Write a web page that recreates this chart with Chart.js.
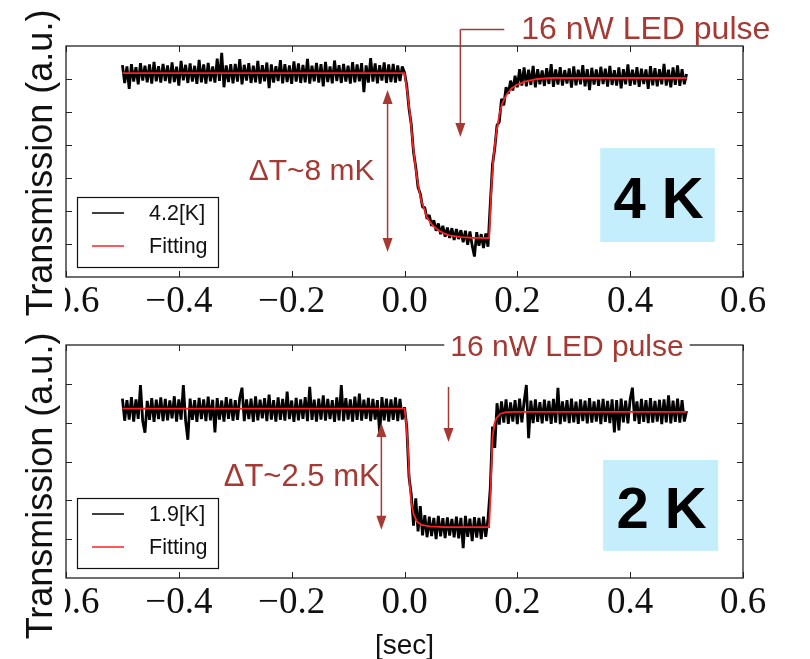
<!DOCTYPE html>
<html>
<head>
<meta charset="utf-8">
<script src="https://cdn.jsdelivr.net/npm/chart.js@4.4.0/dist/chart.umd.min.js"></script>
<style>
  body { margin: 0; background: #fff; width: 810px; height: 659px; overflow: hidden; position: relative; }
  canvas { position: absolute; left: 0; }
  #topChart { top: 0; }
  #bottomChart { top: 320px; }
</style>
</head>
<body>
<canvas id="topChart" width="810" height="320"></canvas>
<canvas id="bottomChart" width="810" height="339"></canvas>
<script>
// sampling of the recorded traces [sec]
const T0 = -0.5;
const DT = 0.004;

const xTicks = [-0.6, -0.4, -0.2, 0.0, 0.2, 0.4, 0.6];

// 4.2 K trace (a.u.)
const traceTop = [
  6.42, 5.88, 6.38, 5.70, 6.45, 5.92, 6.36, 5.84, 6.48, 5.95, 6.40, 5.90, 6.44, 5.86, 6.52, 5.93, 6.39, 5.89, 6.46, 5.94,
  6.41, 5.87, 6.50, 5.91, 6.37, 5.80, 6.55, 5.96, 6.43, 5.88, 6.47, 5.92, 6.40, 5.85, 6.58, 5.90, 6.44, 5.86, 6.49, 5.93,
  6.38, 5.89, 6.62, 5.94, 6.79, 5.75, 6.41, 5.91, 6.45, 5.87, 6.46, 5.92, 6.60, 5.84, 6.43, 5.95, 6.48, 5.88, 6.40, 5.90,
  6.55, 5.86, 6.42, 5.93, 6.50, 5.72, 6.44, 5.89, 6.39, 5.94, 6.57, 5.87, 6.45, 5.91, 6.41, 5.85, 6.53, 5.92, 6.47, 5.88,
  6.43, 5.90, 6.61, 5.86, 6.40, 5.93, 6.49, 5.89, 6.45, 5.78, 6.52, 5.91, 6.38, 5.87, 6.56, 5.94, 6.42, 5.88, 6.46, 5.92,
  6.40, 5.86, 6.51, 5.90, 6.44, 5.93, 6.48, 5.60, 6.41, 5.89, 6.63, 5.92, 6.47, 5.87, 6.42, 5.95, 6.50, 5.88, 6.44, 5.91,
  6.46, 5.89, 6.41, 5.94, 6.38, 6.20,
  // pulse on
  5.80, 5.10, 4.62, 3.78, 3.33, 2.72, 2.52, 2.12, 2.10, 1.76, 1.88, 1.55, 1.72, 1.40, 1.62, 1.30, 1.55, 1.22, 1.50, 1.18,
  1.48, 1.12, 1.45, 1.15, 1.42, 1.05, 1.40, 0.98, 1.38, 0.95, 0.62, 1.36, 0.95, 1.30, 0.88, 1.32, 0.92,
  // recovery
  2.20, 3.40, 3.90, 4.60, 4.70, 5.40, 5.20, 5.75, 5.55, 5.95, 5.65, 6.10, 5.75, 6.30, 5.80,
  6.35, 5.78, 6.28, 5.82, 6.40, 5.75, 6.30, 5.84, 6.26, 5.79, 6.33, 5.85, 6.45, 5.76, 6.29, 5.83, 6.36, 5.80, 6.27, 5.86,
  6.32, 5.74, 6.38, 5.81, 6.28, 5.84, 6.42, 5.78, 6.30, 5.66, 6.34, 5.83, 6.29, 5.79, 6.37, 5.85, 6.31, 5.77, 6.40, 5.82,
  6.27, 5.80, 6.35, 5.72, 6.30, 5.84, 6.44, 5.79, 6.28, 5.83, 6.36, 5.76, 6.31, 5.85, 6.29, 5.70, 6.39, 5.81, 6.33, 5.78,
  6.30, 5.84, 6.46, 5.80, 6.28, 5.75, 6.35, 5.82, 6.41, 5.79, 6.30, 5.84, 6.15
];
const fitTopTime  = [-0.5, 0, 0.005, 0.01, 0.015, 0.02, 0.025, 0.03, 0.04, 0.05, 0.06, 0.07, 0.08, 0.1, 0.12, 0.15,
                     0.154, 0.158, 0.163, 0.168, 0.173, 0.18, 0.19, 0.2, 0.215, 0.235, 0.26, 0.5];
const fitTopValue = [6.18, 6.18, 5.6, 4.9, 4.0, 3.25, 2.7, 2.3, 1.8, 1.56, 1.42, 1.32, 1.26, 1.21, 1.19, 1.18,
                     2.7, 3.7, 4.4, 4.9, 5.25, 5.5, 5.72, 5.83, 5.93, 6.0, 6.03, 6.03];

// 1.9 K trace (a.u.)
const traceBottom = [
  4.62, 4.05, 4.58, 4.08, 4.66, 4.03, 4.60, 4.10, 4.97, 4.04, 3.74, 4.56, 4.07, 4.63, 4.02, 4.59, 4.09, 4.65, 4.04, 4.61,
  4.06, 4.57, 4.11, 4.68, 4.03, 4.60, 4.08, 4.97, 4.05, 3.56, 4.62, 4.07, 4.58, 4.02, 4.64, 4.09, 4.60, 4.04, 4.67, 4.06,
  4.59, 3.75, 4.63, 4.08, 4.57, 4.03, 4.66, 4.10, 4.61, 4.05, 4.58, 4.07, 4.64, 4.90, 4.04, 4.60, 4.09, 4.62, 4.02, 4.68,
  4.06, 4.59, 4.11, 4.63, 4.04, 4.72, 4.08, 4.58, 4.03, 4.65, 4.07, 4.61, 4.05, 4.80, 4.09, 4.57, 4.02, 4.64, 4.06, 4.60,
  4.10, 4.66, 4.04, 4.92, 4.07, 4.59, 4.03, 4.62, 4.08, 4.70, 4.05, 4.61, 4.09, 4.58, 4.02, 4.65, 4.06, 4.97, 4.04, 4.63,
  4.08, 4.60, 4.03, 4.67, 4.07, 4.75, 4.05, 4.59, 4.10, 4.64, 4.04, 4.61, 4.08, 4.58, 3.70, 4.66, 4.06, 4.62, 4.03, 4.60,
  4.07, 4.65, 4.04, 4.61, 4.08, 4.40,
  // pulse on
  3.90, 2.60, 2.15, 1.35, 2.05, 1.20, 1.85, 1.10, 1.62, 1.05, 1.58, 1.08, 1.55, 1.00, 1.60, 1.07, 1.54, 1.03, 1.56, 1.09,
  1.52, 1.05, 1.58, 1.02, 1.55, 0.77, 1.60, 1.06, 1.53, 0.95, 1.57, 1.04, 1.55, 1.00, 1.58, 1.06, 1.52,
  // recovery
  2.30, 3.90, 3.35, 4.50, 3.95,
  4.55, 4.00, 4.60, 3.97, 4.52, 4.03, 4.58, 3.96, 4.62, 4.01, 4.54, 4.97, 3.60, 4.57, 3.99, 4.60, 4.02, 4.53, 3.98, 4.59,
  4.04, 4.56, 3.97, 4.61, 4.00, 4.90, 3.96, 4.55, 4.03, 4.58, 3.99, 4.62, 4.01, 4.54, 3.97, 4.60, 4.04, 4.57, 3.98, 4.63,
  4.00, 4.55, 4.03, 4.59, 3.96, 4.61, 4.02, 4.56, 3.99, 4.60, 3.75, 4.58, 3.80, 4.62, 4.01, 4.57, 3.98, 4.60, 4.90, 4.04,
  4.55, 3.97, 4.61, 4.02, 4.58, 3.99, 4.63, 4.00, 4.56, 4.03, 4.59, 3.96, 4.60, 4.01, 4.70, 3.98, 4.57, 4.02, 4.62, 4.00,
  4.58, 4.03, 4.30
];
const fitBottomTime  = [-0.5, 0, 0.003, 0.006, 0.009, 0.012, 0.016, 0.022, 0.03, 0.045, 0.07, 0.15,
                        0.152, 0.154, 0.156, 0.159, 0.163, 0.17, 0.18, 0.2, 0.5];
const fitBottomValue = [4.36, 4.36, 4.0, 3.4, 2.45, 1.95, 1.65, 1.45, 1.37, 1.33, 1.31, 1.31,
                        2.0, 2.86, 3.6, 3.95, 4.12, 4.23, 4.27, 4.28, 4.28];

const legendTop = ["4.2[K]", "Fitting"];
const legendBottom = ["1.9[K]", "Fitting"];

const NOTE = "#a53a34";
const SANS = "'Liberation Sans', Arial, sans-serif";

function fmtTick(v) {
  if (Math.abs(v) < 1e-9) return "0.0";
  return (v < 0 ? "\u2212" : "") + Math.abs(v).toFixed(1);
}

function line(ctx, x1, y1, x2, y2) {
  ctx.beginPath(); ctx.moveTo(x1, y1); ctx.lineTo(x2, y2); ctx.stroke();
}
function head(ctx, x, tipY, dir) {
  // dir = 1 points down, -1 points up
  ctx.beginPath();
  ctx.moveTo(x, tipY);
  ctx.lineTo(x - 5, tipY - dir * 14);
  ctx.lineTo(x + 5, tipY - dir * 14);
  ctx.closePath(); ctx.fill();
}

const decor = {
  id: "decor",
  afterDraw(chart, args, o) {
    const { ctx, chartArea: a, scales: { x, y } } = chart;
    ctx.save();

    // frame and inward ticks
    ctx.strokeStyle = "#222";
    ctx.lineWidth = 1.3;
    ctx.strokeRect(a.left, a.top, a.right - a.left, a.bottom - a.top);
    ctx.lineWidth = 1;
    xTicks.forEach(v => {
      const px = Math.round(x.getPixelForValue(v)) + 0.5;
      line(ctx, px, a.bottom, px, a.bottom - 6);
      line(ctx, px, a.top, px, a.top + 6);
    });
    y.ticks.forEach(t => {
      if (t.value <= y.min || t.value >= y.max) return;
      const py = Math.round(y.getPixelForValue(t.value)) + 0.5;
      line(ctx, a.left, py, a.left + 6, py);
      line(ctx, a.right, py, a.right - 6, py);
    });

    // the far-left tick label is cut off in the original figure
    ctx.fillStyle = "#fff";
    ctx.fillRect(0, a.bottom + 2, a.left - 1, chart.height - a.bottom);

    // y title
    ctx.fillStyle = "#111";
    ctx.save();
    ctx.translate(52, o.titleY);
    ctx.rotate(-Math.PI / 2);
    ctx.font = "36px " + SANS;
    ctx.textAlign = "center";
    ctx.textBaseline = "alphabetic";
    ctx.fillText("Transmission (a.u.)", 0, 0);
    ctx.restore();

    if (o.xTitle) {
      ctx.font = "28px " + SANS;
      ctx.textAlign = "center";
      ctx.textBaseline = "middle";
      ctx.fillText(o.xTitle, x.getPixelForValue(0), o.xTitleY);
    }

    // legend
    const lx = a.left + 11, lw = 141, lh = 70, ly = a.bottom - 10 - lh;
    ctx.fillStyle = "#fff";
    ctx.fillRect(lx, ly, lw, lh);
    ctx.strokeStyle = "#111";
    ctx.lineWidth = 1.2;
    ctx.strokeRect(lx + 0.5, ly + 0.5, lw, lh);
    ctx.font = "21.5px " + SANS;
    ctx.textAlign = "left";
    ctx.textBaseline = "middle";
    chart.data.datasets.forEach((ds, i) => {
      const yy = ly + 16 + i * 33;
      ctx.strokeStyle = ds.borderColor;
      ctx.lineWidth = 1.5;
      line(ctx, lx + 15, yy, lx + 47, yy);
      ctx.fillStyle = "#111";
      ctx.fillText(ds.label, lx + 72, yy + 1);
    });

    // LED pulse note
    const n = o.note;
    ctx.strokeStyle = NOTE;
    ctx.fillStyle = NOTE;
    ctx.lineWidth = 1.5;
    ctx.font = n.size + "px " + SANS;
    ctx.textBaseline = "middle";
    const ax = x.getPixelForValue(n.arrowT);
    if (n.boxed) {
      const tx = x.getPixelForValue(n.textT);
      const tw = ctx.measureText(n.text).width;
      ctx.fillStyle = "#fff";
      ctx.fillRect(tx - tw / 2 - 6, a.top - 3, tw + 12, 6);
      ctx.fillStyle = NOTE;
      ctx.textAlign = "center";
      ctx.fillText(n.text, tx, y.getPixelForValue(n.textV));
      line(ctx, ax, y.getPixelForValue(n.arrowFrom), ax, y.getPixelForValue(n.arrowTo) - 10);
    } else {
      const tx = x.getPixelForValue(n.textT);
      const ty = y.getPixelForValue(n.textV);
      ctx.textAlign = "left";
      ctx.fillText(n.text, tx, ty);
      const ly2 = Math.round(ty - 1) + 0.5;
      line(ctx, tx - 17, ly2, ax, ly2);
      line(ctx, ax, ly2, ax, y.getPixelForValue(n.arrowTo) - 10);
    }
    head(ctx, ax, y.getPixelForValue(n.arrowTo), 1);

    // temperature step
    const d = o.delta;
    const dx = x.getPixelForValue(d.t);
    const d1 = y.getPixelForValue(d.from), d2 = y.getPixelForValue(d.to);
    line(ctx, dx, d1 + 10, dx, d2 - 10);
    head(ctx, dx, d1, -1);
    head(ctx, dx, d2, 1);
    ctx.font = d.size + "px " + SANS;
    ctx.textAlign = "right";
    ctx.fillText(d.text, x.getPixelForValue(d.textT), y.getPixelForValue(d.textV));

    // temperature tag
    const b = o.tag;
    const bx1 = x.getPixelForValue(b.t1), bx2 = x.getPixelForValue(b.t2);
    const by1 = y.getPixelForValue(b.v1), by2 = y.getPixelForValue(b.v2);
    ctx.fillStyle = "#c4eefc";
    ctx.fillRect(bx1, by1, bx2 - bx1, by2 - by1);
    ctx.fillStyle = "#000";
    ctx.font = "bold 58px " + SANS;
    ctx.textAlign = "center";
    ctx.textBaseline = "alphabetic";
    ctx.fillText(b.text, (bx1 + bx2) / 2 + 1, y.getPixelForValue(b.baseV));

    ctx.restore();
  }
};

function makePanel(id, area, yMax, trace, fitT, fitV, labels, deco) {
  const canvas = document.getElementById(id);
  const points = trace.map((v, i) => ({ x: T0 + i * DT, y: v }));
  const fit = fitT.map((t, i) => ({ x: t, y: fitV[i] }));
  return new Chart(canvas, {
    type: "line",
    data: {
      datasets: [
        { label: labels[0], data: points, borderColor: "#000", borderWidth: 2.8, borderJoinStyle: "bevel",
          pointRadius: 0, tension: 0, order: 2 },
        { label: labels[1], data: fit, borderColor: "#ff2020", borderWidth: 1.8, pointRadius: 0, tension: 0, order: 1 }
      ]
    },
    options: {
      responsive: false,
      animation: false,
      events: [],
      layout: { padding: { left: 0, right: canvas.width - area.right, top: area.top, bottom: 0 } },
      plugins: { legend: { display: false }, tooltip: { enabled: false }, decor: deco },
      scales: {
        x: {
          type: "linear", min: -0.6, max: 0.6,
          grid: { display: false }, border: { display: false },
          afterBuildTicks: s => { s.ticks = xTicks.map(v => ({ value: v })); },
          afterFit: s => { s.height = canvas.height - area.bottom; },
          ticks: {
            font: { family: "'Liberation Serif', 'Times New Roman', serif", size: 37 },
            color: "#111", padding: -5, maxRotation: 0, autoSkip: false,
            callback: v => fmtTick(v)
          }
        },
        y: {
          min: 0, max: yMax,
          grid: { display: false }, border: { display: false },
          ticks: { display: false, stepSize: 1 },
          afterFit: s => { s.width = area.left; }
        }
      }
    },
    plugins: [decor]
  });
}

makePanel("topChart", { left: 66, top: 46, right: 743, bottom: 277 }, 7,
  traceTop, fitTopTime, fitTopValue, legendTop, {
    titleY: 163,
    note: { text: "16 nW LED pulse", size: 32, boxed: false, textT: 0.207, textV: 7.48, arrowT: 0.099, arrowTo: 4.24 },
    delta: { text: "\u0394T~8 mK", size: 30, t: -0.030, from: 5.67, to: 0.76, textT: -0.053, textV: 3.18 },
    tag: { text: "4 K", t1: 0.347, t2: 0.55, v1: 3.91, v2: 1.06, baseV: 1.79 }
  });

makePanel("bottomChart", { left: 66, top: 25, right: 743, bottom: 258 }, 6,
  traceBottom, fitBottomTime, fitBottomValue, legendBottom, {
    titleY: 166,
    xTitle: "[sec]", xTitleY: 326,
    note: { text: "16 nW LED pulse", size: 30, boxed: true, textT: 0.288, textV: 5.92, arrowT: 0.078, arrowFrom: 4.92, arrowTo: 3.50 },
    delta: { text: "\u0394T~2.5 mK", size: 31, t: -0.041, from: 3.99, to: 1.24, textT: -0.044, textV: 2.60 },
    tag: { text: "2 K", t1: 0.352, t2: 0.556, v1: 3.04, v2: 0.70, baseV: 1.29 }
  });
</script>
</body>
</html>
